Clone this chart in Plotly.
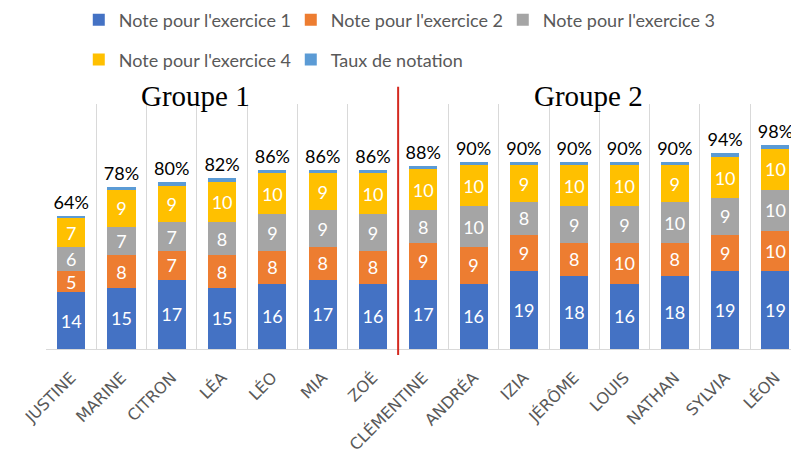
import plotly.graph_objects as go

noms = ["JUSTINE", "MARINE", "CITRON", "LÉA", "LÉO", "MIA", "ZOÉ", "CLÉMENTINE",
        "ANDRÉA", "IZIA", "JÉRÔME", "LOUIS", "NATHAN", "SYLVIA", "LÉON"]
ex1 = [14, 15, 17, 15, 16, 17, 16, 17, 16, 19, 18, 16, 18, 19, 19]
ex2 = [5, 8, 7, 8, 8, 8, 8, 9, 9, 9, 8, 10, 8, 9, 10]
ex3 = [6, 7, 7, 8, 9, 9, 9, 8, 10, 8, 9, 9, 10, 9, 10]
ex4 = [7, 9, 9, 10, 10, 9, 10, 10, 10, 9, 10, 10, 9, 10, 10]
taux = [0.64, 0.78, 0.80, 0.82, 0.86, 0.86, 0.86, 0.88, 0.90, 0.90, 0.90, 0.90, 0.90, 0.94, 0.98]
groupes = ["Groupe 1", "Groupe 2"]
groupe_centres = [2.48, 10.28]
separation = 6.5

series = [
    ("Note pour l'exercice 1", ex1, "#4472C4", "legend"),
    ("Note pour l'exercice 2", ex2, "#ED7D31", "legend"),
    ("Note pour l'exercice 3", ex3, "#A5A5A5", "legend"),
    ("Note pour l'exercice 4", ex4, "#FFC000", "legend2"),
]

fig = go.Figure()
for name, vals, col, leg in series:
    fig.add_trace(go.Bar(
        x=noms, y=vals, name=name, marker=dict(color=col, line=dict(width=0)),
        text=[str(v) for v in vals], textposition="inside", insidetextanchor="middle",
        textangle=0,
        textfont=dict(family="Lato", size=19, color="white"), legend=leg,
        constraintext="none",
    ))
fig.add_trace(go.Bar(
    x=noms, y=taux, name="Taux de notation", marker=dict(color="#5B9BD5", line=dict(width=0)),
    text=[f"{round(t*100)}%" for t in taux], textposition="outside", textangle=0,
    textfont=dict(family="Lato", size=18, color="black"), legend="legend2",
    constraintext="none", cliponaxis=False,
))

leg_common = dict(orientation="h", xanchor="left", yanchor="middle", traceorder="normal",
                  font=dict(family="Lato", size=18, color="#595959"), entrywidth=167,
                  bgcolor="rgba(0,0,0,0)")

fig.update_layout(
    width=791, height=459,
    barmode="stack", bargap=0.44,
    margin=dict(l=46, r=0, t=104, b=110),
    paper_bgcolor="white", plot_bgcolor="white",
    uniformtext=dict(minsize=17, mode="show"),
    font=dict(family="Lato", color="#595959"),
    xaxis=dict(
        range=[-0.5, 14.31], tickson="boundaries", showgrid=True, gridcolor="#D9D9D9",
        gridwidth=1, showline=True, linecolor="#D9D9D9", ticks="", tickangle=-45,
        automargin=False, ticklabelstandoff=12,
        tickfont=dict(family="DejaVu Sans", size=16, color="#595959"),
    ),
    yaxis=dict(range=[0, 60], visible=False, automargin=False),
    legend=dict(x=0.044, y=1.343, **leg_common),
    legend2=dict(x=0.044, y=1.18, **leg_common),
    showlegend=True,
)

for g, c in zip(groupes, groupe_centres):
    fig.add_annotation(x=c, y=1.033, xref="x", yref="paper", text=g, showarrow=False,
                       xanchor="center", yanchor="middle",
                       font=dict(family="Liberation Serif", size=29, color="black"))

fig.add_shape(type="line", xref="x", yref="paper", x0=separation, x1=separation,
              y0=-0.024, y1=1.07, line=dict(color="#D42A20", width=2))

fig.write_html("out.html", config={"displayModeBar": False},
               post_script="document.body.style.margin='0';document.body.style.overflow='hidden';")
